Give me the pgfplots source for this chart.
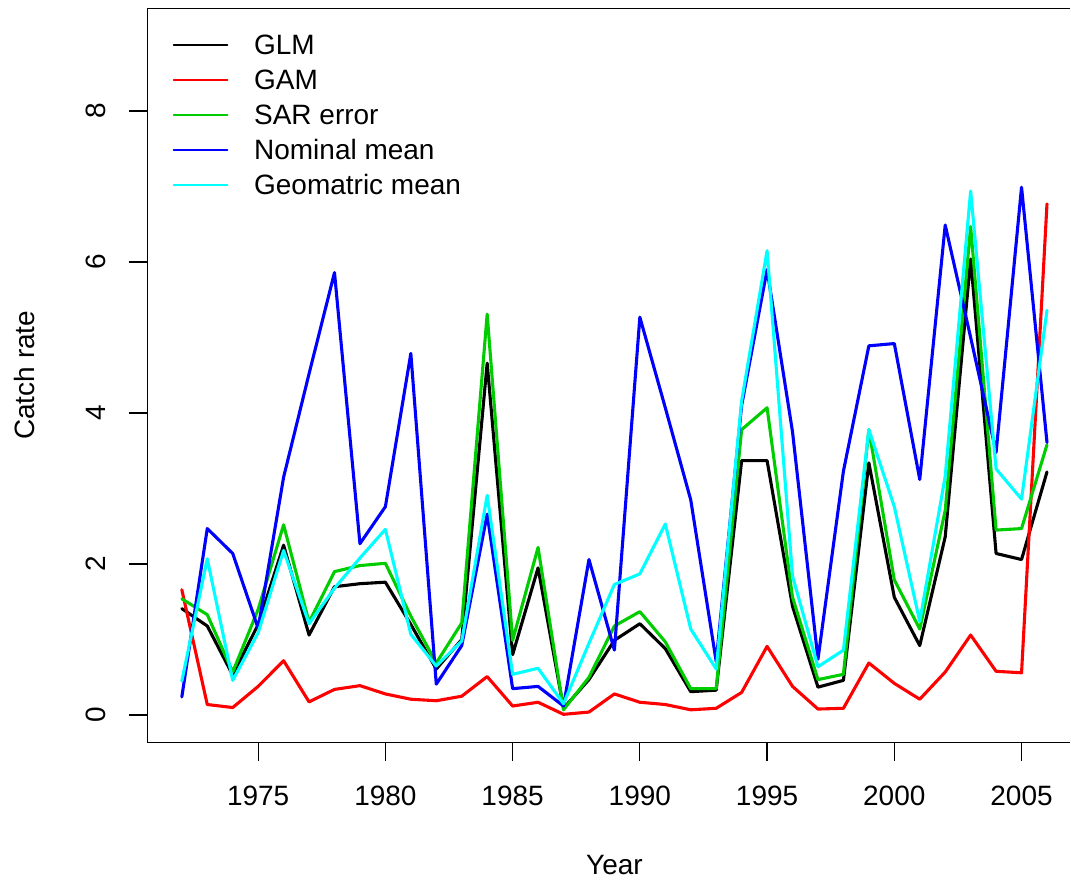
\documentclass[border=0pt]{standalone}
\usepackage{fontspec}
\setmainfont{Liberation Sans}
\usepackage{pgfplots}
\pgfplotsset{compat=1.18}
\usepackage{pgfplotstable}

\definecolor{rgreen}{RGB}{0,205,0}
\definecolor{rcyan}{RGB}{0,255,255}
\definecolor{rblue}{RGB}{0,0,255}
\definecolor{rred}{RGB}{255,0,0}

\pgfplotstableread{
year glm  gam   sar  nom  geo
1972 1.41 1.66  1.54 0.24 0.45
1973 1.18 0.14  1.33 2.47 2.07
1974 0.53 0.10  0.57 2.14 0.46
1975 1.20 0.38  1.40 1.15 1.09
1976 2.25 0.72  2.52 3.15 2.18
1977 1.06 0.175 1.23 4.52 1.21
1978 1.70 0.34  1.90 5.86 1.68
1979 1.74 0.39  1.98 2.27 2.08
1980 1.76 0.28  2.01 2.76 2.46
1981 1.20 0.21  1.31 4.79 1.07
1982 0.61 0.19  0.69 0.41 0.65
1983 1.00 0.25  1.22 0.92 0.98
1984 4.66 0.51  5.31 2.66 2.91
1985 0.80 0.12  0.99 0.35 0.54
1986 1.95 0.17  2.22 0.38 0.62
1987 0.09 0.01  0.07 0.12 0.15
1988 0.47 0.04  0.50 2.06 0.95
1989 0.99 0.28  1.18 0.86 1.73
1990 1.21 0.17  1.37 5.27 1.87
1991 0.88 0.14  0.97 4.07 2.53
1992 0.31 0.07  0.35 2.85 1.14
1993 0.33 0.09  0.35 0.71 0.61
1994 3.37 0.30  3.78 4.10 4.16
1995 3.37 0.91  4.07 5.90 6.15
1996 1.44 0.38  1.56 3.75 1.84
1997 0.37 0.08  0.47 0.74 0.64
1998 0.46 0.09  0.54 3.23 0.86
1999 3.34 0.69  3.78 4.89 3.78
2000 1.56 0.42  1.79 4.92 2.76
2001 0.92 0.21  1.14 3.12 1.24
2002 2.36 0.57  2.71 6.49 3.16
2003 6.04 1.06  6.47 5.00 6.94
2004 2.14 0.58  2.45 3.48 3.26
2005 2.06 0.56  2.47 6.99 2.86
2006 3.22 6.77  3.58 3.61 5.36
}\data

\begin{document}
\begin{tikzpicture}[font=\fontsize{14}{16.8}\selectfont]
\begin{axis}[
  scale only axis,
  width=461.85pt, height=367.2pt,
  xmin=1970.64, xmax=2006.92, ymin=-0.36, ymax=9.36,
  axis y line*=left,
  y axis line style={-},
  axis line style={black, line width=0.6pt},
  xtick={1975,1980,1985,1990,1995,2000,2005},
  xticklabels={1975,1980,1985,1990,1995,2000,2005},
  ytick={0,2,4,6,8},
  yticklabels={0,2,4,6,8},
  xtick pos=left, ytick pos=left,
  tick align=outside, major tick length=9.15pt,
  every tick/.style={black, line width=0.6pt},
  xticklabel style={anchor=north, inner sep=0pt},
  xticklabel shift=12.5pt,
  yticklabel style={rotate=90, anchor=south, inner sep=0pt},
  yticklabel shift=11.5pt,
  xlabel={Year},
  ylabel={Catch rate},
  every axis x label/.style={at={([yshift=-66.15pt]axis description cs:0.5061,0)}, anchor=base, inner sep=0pt},
  every axis y label/.style={at={([xshift=-56.15pt]axis description cs:0,0.5)}, rotate=90, anchor=south, inner sep=0pt},
  legend style={draw=none, fill=none, at={(axis description cs:0,1)}, anchor=north west,
    xshift=12.85pt, yshift=-13.35pt, inner sep=0pt, outer sep=0pt, row sep=7.5pt,
    nodes={inner sep=0pt, text height=10pt, text depth=0pt},
    /tikz/every odd column/.append style={column sep=13pt}},
  legend cell align=left,
  legend image code/.code={\draw[line width=0.65pt] (0pt,0pt) -- (27pt,0pt);},
  every axis plot/.append style={line width=1.55pt, line join=round, line cap=round},
]
\addplot[black] table[x=year, y=glm] {\data};
\addlegendentry{GLM}
\addplot[rred] table[x=year, y=gam] {\data};
\addlegendentry{GAM}
\addplot[rgreen] table[x=year, y=sar] {\data};
\addlegendentry{SAR error}
\addplot[rblue] table[x=year, y=nom] {\data};
\addlegendentry{Nominal mean}
\addplot[rcyan] table[x=year, y=geo] {\data};
\addlegendentry{Geomatric mean}
\end{axis}
\path ([shift={(-73.65pt,-69.15pt)}]current axis.south west) rectangle ([shift={(0pt,4.15pt)}]current axis.north east);
\end{tikzpicture}
\end{document}
